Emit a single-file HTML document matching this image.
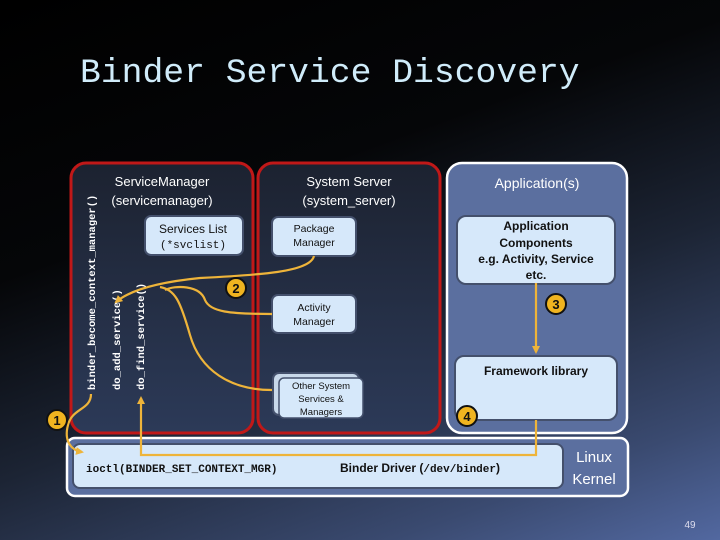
<!DOCTYPE html>
<html><head><meta charset="utf-8"><style>
html,body{margin:0;padding:0;}
body{width:720px;height:540px;overflow:hidden;background:linear-gradient(160deg,#000 0%,#050608 35%,#1c2434 60%,#3a4a70 85%,#5268a0 100%);}
svg{display:block}
</style></head><body>
<svg width="720" height="540" viewBox="0 0 720 540" xmlns="http://www.w3.org/2000/svg" font-family="Liberation Sans, sans-serif">
<defs>
<linearGradient id="dk" x1="0" y1="0" x2="0" y2="1"><stop offset="0" stop-color="#1c2230"/><stop offset="1" stop-color="#2c3a58"/></linearGradient>
<marker id="ar" markerWidth="8" markerHeight="8" refX="6" refY="4" orient="auto" markerUnits="userSpaceOnUse"><path d="M0,0 L8,4 L0,8 z" fill="#eeb43a"/></marker>
</defs>
<text x="80" y="82" font-family="Liberation Mono, monospace" font-size="34.7" fill="#d0ecfa">Binder Service Discovery</text>

<!-- kernel -->
<rect x="67" y="438" width="561" height="58" rx="8" fill="#5b6f9f" stroke="#fff" stroke-width="2.5"/>
<rect x="73" y="444" width="490" height="44" rx="7" fill="#d6e8fa" stroke="#44506c" stroke-width="2"/>
<text x="594" y="462" font-size="15" fill="#fff" text-anchor="middle">Linux</text>
<text x="594" y="484" font-size="15" fill="#fff" text-anchor="middle">Kernel</text>
<text x="86" y="472" font-family="Liberation Mono, monospace" font-size="11" font-weight="bold" fill="#111">ioctl(BINDER_SET_CONTEXT_MGR)</text>
<text x="340" y="472" font-size="12" font-weight="bold" fill="#111">Binder Driver (<tspan font-family="Liberation Mono, monospace" font-size="11">/dev/binder</tspan>)</text>

<!-- service manager -->
<rect x="71" y="163" width="182" height="270" rx="15" fill="url(#dk)" stroke="#c01818" stroke-width="3"/>
<text x="162" y="186" font-size="13" fill="#fff" text-anchor="middle">ServiceManager</text>
<text x="162" y="205" font-size="13" fill="#fff" text-anchor="middle">(servicemanager)</text>
<rect x="145" y="216" width="98" height="39" rx="6" fill="#d6e8fa" stroke="#44506c" stroke-width="2"/>
<text x="193" y="233" font-size="12" fill="#111" text-anchor="middle">Services List</text>
<text x="193" y="248" font-family="Liberation Mono, monospace" font-size="11" fill="#111" text-anchor="middle">(*svclist)</text>
<text transform="translate(95,390) rotate(-90)" font-family="Liberation Mono, monospace" font-size="10.5" font-weight="bold" fill="#fff">binder_become_context_manager()</text>
<text transform="translate(120,390) rotate(-90)" font-family="Liberation Mono, monospace" font-size="10.5" font-weight="bold" fill="#fff">do_add_service()</text>
<text transform="translate(144,390) rotate(-90)" font-family="Liberation Mono, monospace" font-size="10.5" font-weight="bold" fill="#fff">do_find_service()</text>

<!-- system server -->
<rect x="258" y="163" width="182" height="270" rx="15" fill="url(#dk)" stroke="#c01818" stroke-width="3"/>
<text x="349" y="186" font-size="13" fill="#fff" text-anchor="middle">System Server</text>
<text x="349" y="205" font-size="13" fill="#fff" text-anchor="middle">(system_server)</text>
<rect x="272" y="217" width="84" height="39" rx="6" fill="#d6e8fa" stroke="#44506c" stroke-width="2"/>
<text x="314" y="232" font-size="10.5" fill="#111" text-anchor="middle">Package</text>
<text x="314" y="246" font-size="10.5" fill="#111" text-anchor="middle">Manager</text>
<rect x="272" y="295" width="84" height="38" rx="6" fill="#d6e8fa" stroke="#44506c" stroke-width="2"/>
<text x="314" y="311" font-size="10.5" fill="#111" text-anchor="middle">Activity</text>
<text x="314" y="325" font-size="10.5" fill="#111" text-anchor="middle">Manager</text>
<rect x="273" y="373" width="86" height="42" rx="6" fill="#c8d8ea" stroke="#44506c" stroke-width="2"/>
<rect x="279" y="378" width="84" height="40" rx="5" fill="#d6e8fa" stroke="#44506c" stroke-width="1.5"/>
<text x="321" y="389" font-size="9.5" fill="#111" text-anchor="middle">Other System</text>
<text x="321" y="402" font-size="9.5" fill="#111" text-anchor="middle">Services &amp;</text>
<text x="321" y="415" font-size="9.5" fill="#111" text-anchor="middle">Managers</text>

<!-- application -->
<rect x="447" y="163" width="180" height="270" rx="15" fill="#5b6f9f" stroke="#fff" stroke-width="2.5"/>
<text x="537" y="188" font-size="14" fill="#fff" text-anchor="middle">Application(s)</text>
<rect x="457" y="216" width="158" height="68" rx="9" fill="#d6e8fa" stroke="#44506c" stroke-width="2"/>
<text x="536" y="230" font-size="12" font-weight="bold" fill="#111" text-anchor="middle">Application</text>
<text x="536" y="247" font-size="12" font-weight="bold" fill="#111" text-anchor="middle">Components</text>
<text x="536" y="263" font-size="12" font-weight="bold" fill="#111" text-anchor="middle">e.g. Activity, Service</text>
<text x="536" y="279" font-size="12" font-weight="bold" fill="#111" text-anchor="middle">etc.</text>
<rect x="455" y="356" width="162" height="64" rx="9" fill="#d6e8fa" stroke="#44506c" stroke-width="2"/>
<text x="536" y="375" font-size="12" font-weight="bold" fill="#111" text-anchor="middle">Framework library</text>

<!-- connectors -->
<g fill="none" stroke="#eeb43a" stroke-width="2.2">
<path d="M314,256 C310,272 260,275 200,278 C160,282 130,290 116,302" marker-end="url(#ar)"/>
<path d="M272,314 C230,314 210,312 205,300 C200,285 175,285 165,290"/>
<path d="M272,390 C230,390 200,370 190,335 C180,300 175,290 160,287"/>
<path d="M91,394 C91,410 72,408 68,425 C64,440 70,450 82,452" marker-end="url(#ar)"/>
<path d="M536,283 L536,352" marker-end="url(#ar)"/>
<path d="M536,420 L536,455 L141,455 L141,398" marker-end="url(#ar)"/>
</g>

<!-- numbers -->
<g font-size="13" font-weight="bold" text-anchor="middle" fill="#111">
<circle cx="57" cy="420" r="10" fill="#f0b420" stroke="#111" stroke-width="2"/><text x="57" y="425">1</text>
<circle cx="236" cy="288" r="10" fill="#f0b420" stroke="#111" stroke-width="2"/><text x="236" y="293">2</text>
<circle cx="556" cy="304" r="10" fill="#f0b420" stroke="#111" stroke-width="2"/><text x="556" y="309">3</text>
<circle cx="467" cy="416" r="10" fill="#f0b420" stroke="#111" stroke-width="2"/><text x="467" y="421">4</text>
</g>
<text x="690" y="528" font-size="10" fill="#dde" text-anchor="middle">49</text>
</svg>
</body></html>
